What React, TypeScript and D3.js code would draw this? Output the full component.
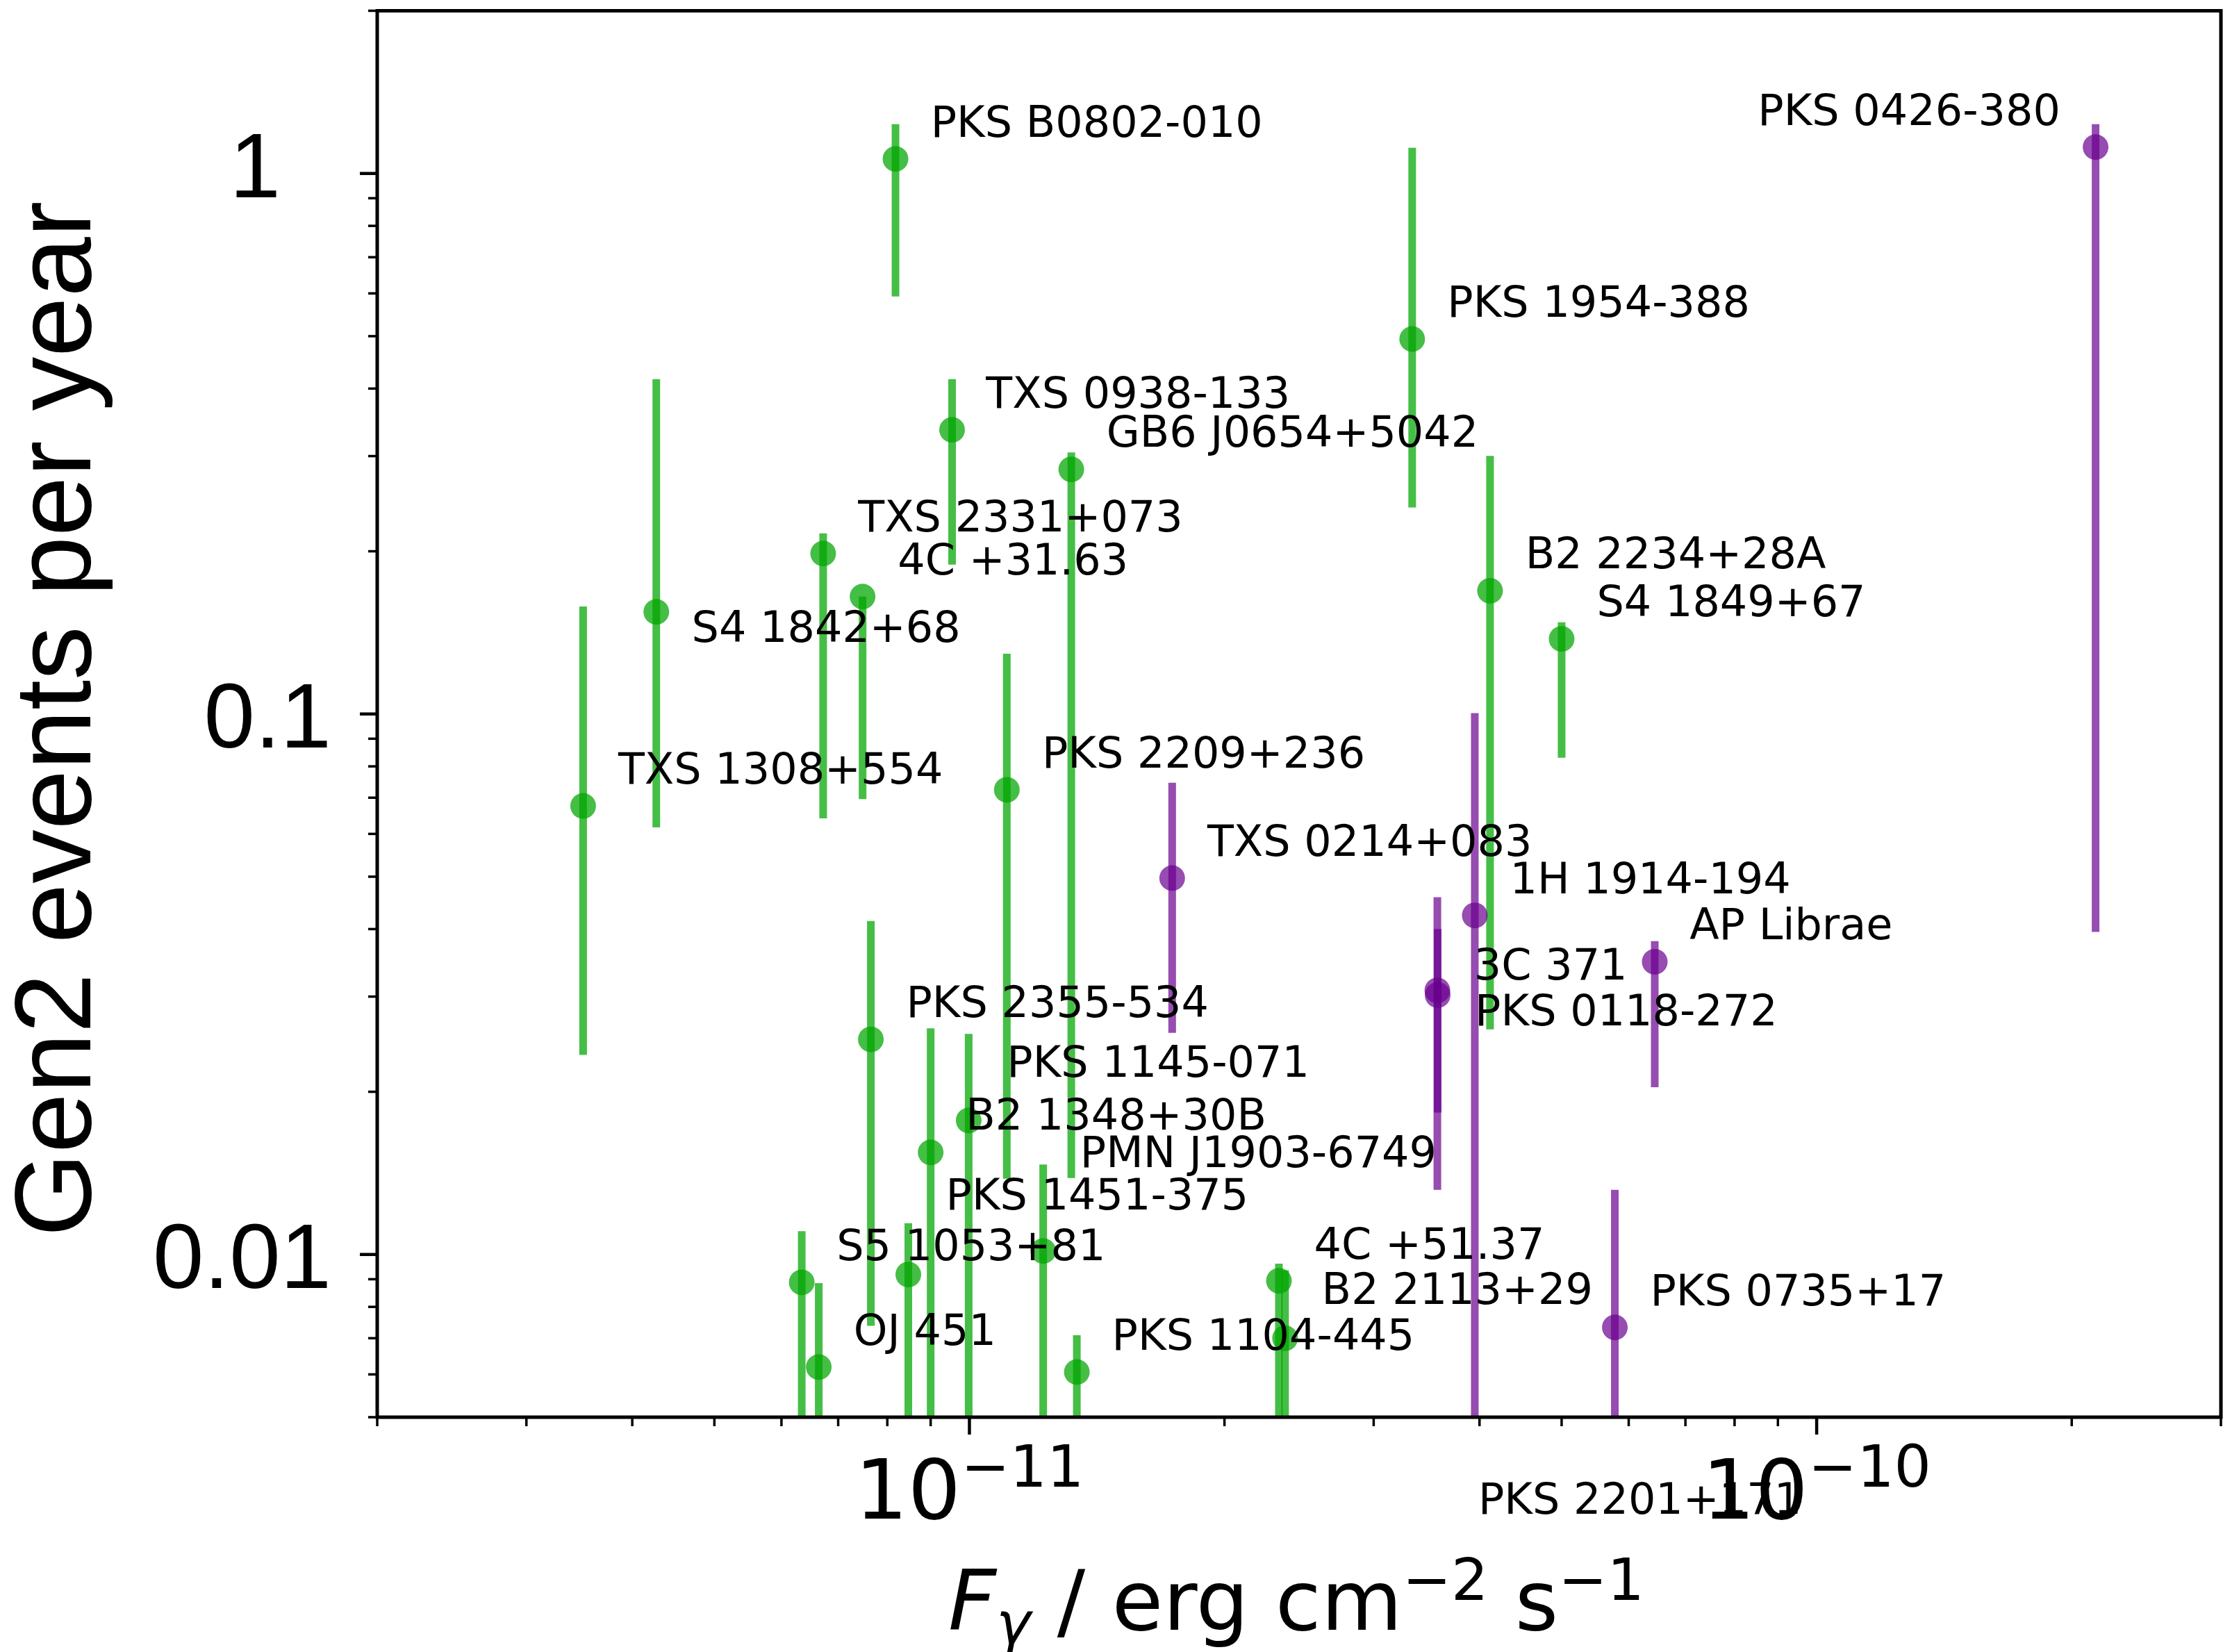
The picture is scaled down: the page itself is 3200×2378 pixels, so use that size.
import React from "react";
import * as d3 from "d3";

// ---------- data ----------
const names = [
  "PKS B0802-010", "TXS 0938-133", "GB6 J0654+5042", "TXS 2331+073", "4C +31.63",
  "S4 1842+68", "TXS 1308+554", "PKS 2209+236", "PKS 1954-388", "B2 2234+28A",
  "S4 1849+67", "PKS 2355-534", "PKS 1145-071", "B2 1348+30B", "PMN J1903-6749",
  "PKS 1451-375", "S5 1053+81", "OJ 451", "PKS 1104-445", "4C +51.37", "B2 2113+29",
  "PKS 0426-380", "TXS 0214+083", "1H 1914-194", "3C 371", "PKS 0118-272",
  "AP Librae", "PKS 0735+17", "PKS 2201+171",
];
const groups = [
  "g", "g", "g", "g", "g", "g", "g", "g", "g", "g", "g", "g", "g", "g", "g",
  "g", "g", "g", "g", "g", "g",
  "p", "p", "p", "p", "p", "p", "p", "p",
];
const flux = [
  8.18e-12, 9.54e-12, 1.319e-11, 6.72e-12, 7.48e-12,
  4.27e-12, 3.5e-12, 1.107e-11, 3.331e-11, 4.116e-11,
  5.0e-11, 7.65e-12, 9.98e-12, 9.0e-12, 1.222e-11,
  8.47e-12, 6.34e-12, 6.64e-12, 1.339e-11, 2.319e-11, 2.358e-11,
  2.134e-10, 1.735e-11, 3.949e-11, 3.567e-11, 3.57e-11,
  6.44e-11, 5.778e-11, 3.62e-11,
];
const rate = [
  1.064, 0.3355, 0.2835, 0.1981, 0.1649,
  0.1545, 0.0676, 0.0724, 0.494, 0.169,
  0.1377, 0.025, 0.0177, 0.01545, 0.01015,
  0.00918, 0.00888, 0.00619, 0.00606, 0.00894, 0.007,
  1.119, 0.0497, 0.0424, 0.0308, 0.0302,
  0.0348, 0.00733, 0.003,
];
const rateLow = [
  0.592, 0.1889, 0.01385, 0.0641, 0.0696,
  0.0617, 0.0234, 0.01381, 0.2411, 0.0261,
  0.083, 0.00738, 0.002, 0.002, 0.002,
  0.002, 0.002, 0.002, 0.002, 0.002, 0.002,
  0.0395, 0.0257, 0.002, 0.01317, 0.0183,
  0.0204, 0.002, 0.002,
];
const rateHigh = [
  1.234, 0.4164, 0.3048, 0.2159, 0.1649,
  0.4164, 0.1581, 0.1293, 1.116, 0.3002,
  0.1478, 0.0414, 0.0256, 0.0262, 0.01467,
  0.01143, 0.01104, 0.00885, 0.00709, 0.00962, 0.00935,
  1.234, 0.0746, 0.1004, 0.0458, 0.04,
  0.038, 0.01317, 0.004,
];
// text anchors of the source names, in data units
const labelFlux = [
  9.0e-12, 1.046e-11, 1.451e-11, 7.39e-12, 8.23e-12,
  4.7e-12, 3.85e-12, 1.218e-11, 3.664e-11, 4.53e-11,
  5.5e-11, 8.42e-12, 1.107e-11, 9.9e-12, 1.351e-11,
  9.38e-12, 6.97e-12, 7.3e-12, 1.473e-11, 2.551e-11, 2.605e-11,
  8.52e-11, 1.909e-11, 4.344e-11, 3.94e-11, 3.95e-11,
  7.08e-11, 6.36e-11, 3.986e-11,
];
const labelRate = [
  1.17, 0.3688, 0.3119, 0.2179, 0.1814,
  0.136, 0.0744, 0.0796, 0.543, 0.186,
  0.1515, 0.0275, 0.0213, 0.017, 0.01449,
  0.01213, 0.00977, 0.00681, 0.00667, 0.00983, 0.00809,
  1.23, 0.0547, 0.0466, 0.0323, 0.02655,
  0.0383, 0.00806, 0.00331,
];

const xDomain = [2e-12, 3e-10];
const yDomain = [0.005, 2];
const xMajorTicks = [1e-11, 1e-10];
const xMajorExp = ["\u221211", "\u221210"];
const yMajorTicks = [1, 0.1, 0.01];
const yTickLabels = ["1", "0.1", "0.01"];

// ---------- layout / style ----------
const W = 3200;
const H = 2378;
const L = 543, R = 3197, T = 15.5, B = 2040;
const COLORS: Record<string, string> = { g: "rgb(0,166,0)", p: "rgb(106,0,142)" };
const ALPHA: Record<string, number> = { g: 0.73, p: 0.7 };
const DJ = "'DejaVu Sans', sans-serif";
const AR = "'Liberation Sans', Arial, Helvetica, sans-serif";

export default function App() {
  const x = d3.scaleLog().domain(xDomain).range([L, R]);
  const y = d3.scaleLog().domain(yDomain).range([B, T]);
  const isMajor = (t: number) => Math.abs(Math.log10(t) - Math.round(Math.log10(t))) < 1e-6;
  const xt = x.ticks();
  const yt = y.ticks();

  const rows = names.map((n, i) => ({
    name: n, g: groups[i], fx: flux[i], r: rate[i], lo: rateLow[i], hi: rateHigh[i],
    lx: labelFlux[i], ly: labelRate[i],
  }));

  return (
    <svg width={W} height={H} viewBox={`0 0 ${W} ${H}`}
      style={{ position: "absolute", left: 0, top: 0, background: "#fff" }}>
      <defs>
        <clipPath id="plotclip">
          <rect x={L} y={T} width={R - L} height={B - T} />
        </clipPath>
      </defs>
      <rect x={0} y={0} width={W} height={H} fill="#fff" />
      <g clipPath="url(#plotclip)">
        {rows.map((d, i) => (
          <g key={i}>
            <line x1={x(d.fx)} x2={x(d.fx)} y1={y(d.lo)} y2={y(d.hi)}
              stroke={COLORS[d.g]} strokeOpacity={ALPHA[d.g]} strokeWidth={11} />
            <circle cx={x(d.fx)} cy={y(d.r)} r={18.5}
              fill={COLORS[d.g]} fillOpacity={ALPHA[d.g]} />
          </g>
        ))}
      </g>
      {rows.map((d, i) => (
        <text key={"l" + i} x={x(d.lx)} y={y(d.ly)} fontFamily={DJ} fontSize={62} fill="#000">
          {d.name}
        </text>
      ))}
      {/* x ticks */}
      {xt.map((t, i) => {
        const maj = isMajor(t);
        return (
          <line key={"xt" + i} x1={x(t)} x2={x(t)} y1={B} y2={B + (maj ? 25 : 13)}
            stroke="#000" strokeWidth={maj ? 4.5 : 3.5} />
        );
      })}
      {/* y ticks */}
      {yt.map((t, i) => {
        const maj = isMajor(t);
        return (
          <line key={"yt" + i} x1={L} x2={L - (maj ? 25 : 13)} y1={y(t)} y2={y(t)}
            stroke="#000" strokeWidth={maj ? 4.5 : 3.5} />
        );
      })}
      <rect x={L} y={T} width={R - L} height={B - T} fill="none" stroke="#000" strokeWidth={5} />
      {/* x tick labels */}
      {xMajorTicks.map((t, i) => (
        <text key={"xl" + i} x={x(t)} y={2186} textAnchor="middle" fontFamily={DJ} fontSize={120}>
          10<tspan fontSize={84} dy={-46}>{xMajorExp[i]}</tspan>
        </text>
      ))}
      {/* y tick labels */}
      {yMajorTicks.map((t, i) => (
        <text key={"yl" + i} x={477} y={y(t) + 48} textAnchor="end" fontFamily={AR} fontSize={132}
          dx={yTickLabels[i] === "1" ? -73 : 0} dy={yTickLabels[i] === "1" ? -14 : 0}>
          {yTickLabels[i]}
        </text>
      ))}
      {/* axis titles */}
      <text x={1866} y={2346} textAnchor="middle" fontFamily={DJ} fontSize={120} style={{ whiteSpace: "pre" }}>
        <tspan fontStyle="italic">F</tspan>
        <tspan fontSize={84} dy={20} fontStyle="italic">γ</tspan>
        <tspan dy={-20}>{" / erg cm"}</tspan>
        <tspan fontSize={84} dy={-43}>{"\u22122"}</tspan>
        <tspan dy={43}>{" s"}</tspan>
        <tspan fontSize={84} dy={-43}>{"\u22121"}</tspan>
      </text>
      <text transform="translate(130,1035) rotate(-90)" textAnchor="middle" fontFamily={AR} fontSize={155}>
        Gen2 events per year
      </text>
    </svg>
  );
}
